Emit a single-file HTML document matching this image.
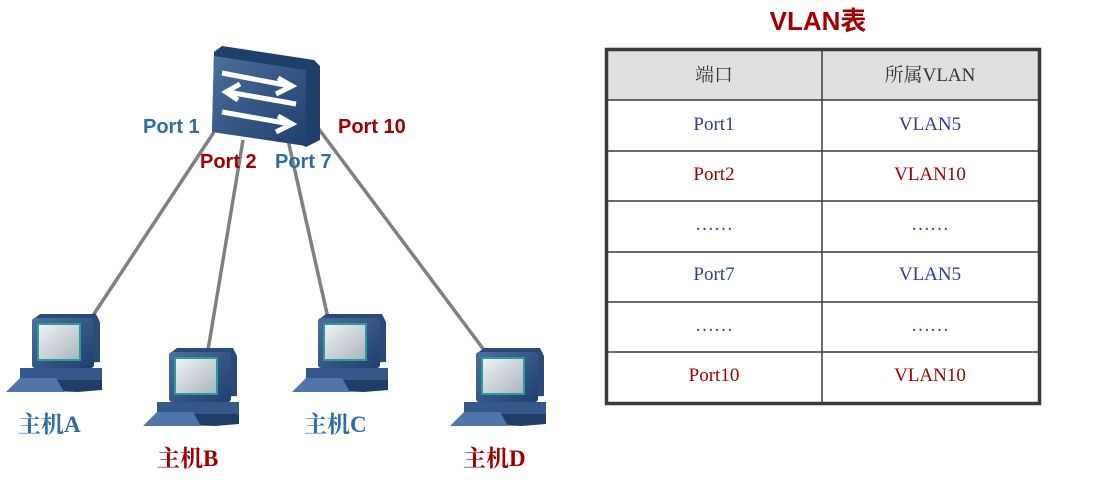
<!DOCTYPE html>
<html><head><meta charset="utf-8"><style>
body{margin:0;width:1093px;height:494px;background:#fff;overflow:hidden}
svg{position:absolute;left:0;top:0}
.t{font-family:"Liberation Serif","Noto Serif CJK SC",serif;font-size:19px;text-anchor:middle}
.p{font-family:"Liberation Sans",sans-serif;font-weight:bold;font-size:20px}
.h{font-family:"Liberation Serif","Noto Serif CJK SC",serif;font-weight:bold;font-size:23px}
</style></head><body>
<svg width="1093" height="494" viewBox="0 0 1093 494">
<defs>
<linearGradient id="sw" x1="0" y1="0" x2="1" y2="1"><stop offset="0" stop-color="#4d6f9c"/><stop offset="1" stop-color="#1f3f6e"/></linearGradient>
<linearGradient id="scr" x1="0" y1="0" x2="1" y2="1"><stop offset="0" stop-color="#eef2f4"/><stop offset="1" stop-color="#a9b6bd"/></linearGradient>
<g id="pc">
<polygon points="26,8 34,2 90,2 94,10 94,50 26,54" fill="#2a4a78"/>
<rect x="26" y="6" width="62" height="50" rx="3" fill="url(#sw)"/>
<rect x="31" y="11" width="44" height="38" fill="#2a9a9a"/>
<rect x="33" y="13" width="40" height="34" fill="url(#scr)"/>
<polygon points="14,56 96,56 96,68 14,68" fill="#34588a"/>
<polygon points="14,68 96,68 96,78 72,80 14,78" fill="#203d68"/>
<polygon points="14,66 50,66 58,80 0,80" fill="#4f76a8"/>
</g>
</defs>
<g stroke="#808080" stroke-width="3.5">
<line x1="214" y1="132" x2="90" y2="320"/>
<line x1="243" y1="140" x2="208" y2="350"/>
<line x1="288" y1="140" x2="328" y2="318"/>
<line x1="318" y1="128" x2="484" y2="350"/>
</g>
<polygon points="214,52 222,46 314,60 320,66 320,140 306,147 300,144 212,132" fill="#1e3e6c"/>
<polygon points="214,56 306,70 306,146 212,132" fill="url(#sw)"/>
<g stroke="#fff" stroke-width="5" fill="none">
<polyline points="222,73 290,86"/><polyline points="278,78 292,86 276,94"/>
<polyline points="296,104 228,92"/><polyline points="240,84 226,92 238,100"/>
<polyline points="222,112 290,124"/><polyline points="278,116 292,124 276,132"/>
</g>
<use href="#pc" x="6" y="312"/>
<use href="#pc" x="143" y="346"/>
<use href="#pc" x="292" y="312"/>
<use href="#pc" x="450" y="346"/>
<text class="p" x="143" y="133" fill="#2e6ca4">Port 1</text>
<text class="p" x="338" y="133" fill="#a00000">Port 10</text>
<text class="p" x="200" y="168" fill="#a00000">Port 2</text>
<text class="p" x="275" y="168" fill="#2e6ca4">Port 7</text>
<text class="h" x="18" y="432" fill="#2e6ca4">主机A</text>
<text class="h" x="157" y="466" fill="#a00000">主机B</text>
<text class="h" x="304" y="432" fill="#2e6ca4">主机C</text>
<text class="h" x="463" y="466" fill="#a00000">主机D</text>
<text x="818" y="30" text-anchor="middle" font-family="Liberation Sans,Noto Sans CJK SC,sans-serif" font-weight="bold" font-size="26" fill="#a00000">VLAN表</text>
<rect x="607" y="50" width="432" height="50" fill="#e0e0e0"/>
<g stroke="#3a3a3a" stroke-width="1.5">
<line x1="607" y1="100" x2="1039" y2="100"/><line x1="607" y1="151" x2="1039" y2="151"/>
<line x1="607" y1="201" x2="1039" y2="201"/><line x1="607" y1="252" x2="1039" y2="252"/>
<line x1="607" y1="302" x2="1039" y2="302"/><line x1="607" y1="352" x2="1039" y2="352"/>
<line x1="822" y1="50" x2="822" y2="403"/>
</g>
<rect x="606.5" y="49.5" width="433" height="354" fill="none" stroke="#3a3a3a" stroke-width="3.5"/>
<text class="t" x="714" y="81" font-size="22" fill="#333">端口</text>
<text class="t" x="930" y="81" font-size="22" fill="#333">所属VLAN</text>
<text class="t" x="714" y="130" fill="#2e3d9a">Port1</text><text class="t" x="930" y="130" fill="#2e3d9a">VLAN5</text>
<text class="t" x="714" y="180" fill="#a00000">Port2</text><text class="t" x="930" y="180" fill="#a00000">VLAN10</text>
<text class="t" x="714" y="230" fill="#2e3d9a">……</text><text class="t" x="930" y="230" fill="#2e3d9a">……</text>
<text class="t" x="714" y="280" fill="#2e3d9a">Port7</text><text class="t" x="930" y="280" fill="#2e3d9a">VLAN5</text>
<text class="t" x="714" y="331" fill="#2e3d9a">……</text><text class="t" x="930" y="331" fill="#2e3d9a">……</text>
<text class="t" x="714" y="381" fill="#a00000">Port10</text><text class="t" x="930" y="381" fill="#a00000">VLAN10</text>
</svg>
</body></html>
